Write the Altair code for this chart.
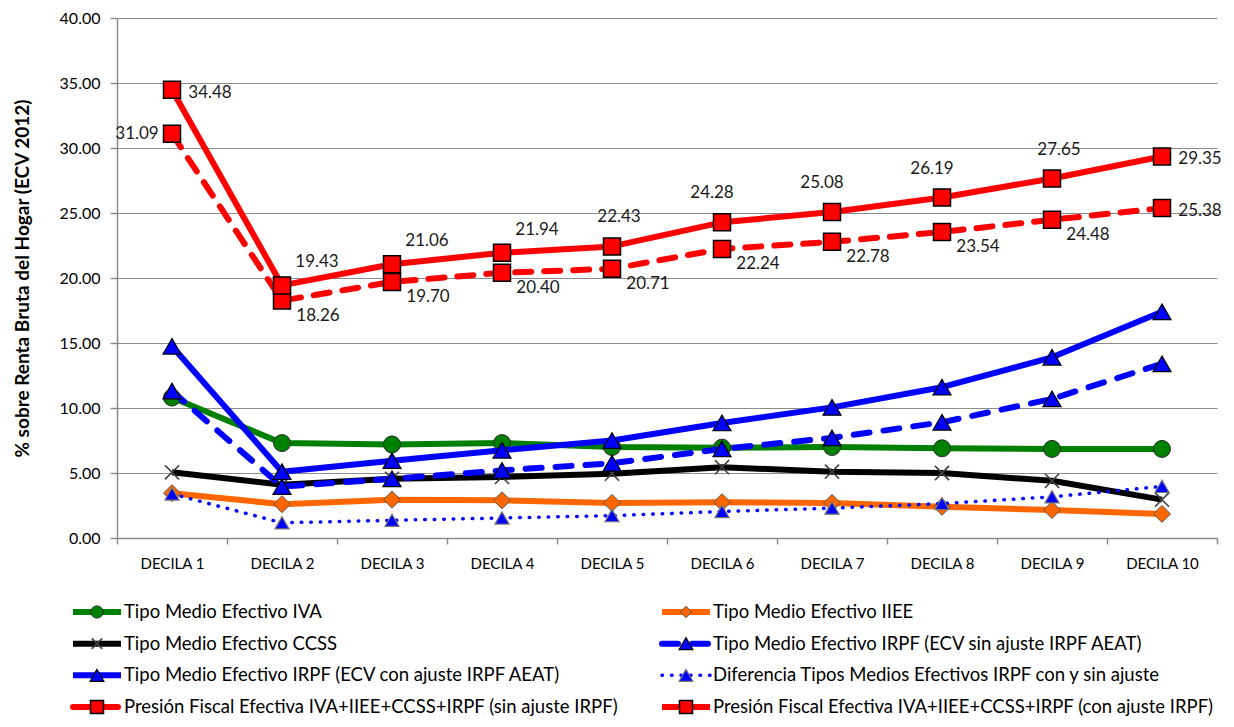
import altair as alt
import pandas as pd

deciles = ["DECILA 1", "DECILA 2", "DECILA 3", "DECILA 4", "DECILA 5",
           "DECILA 6", "DECILA 7", "DECILA 8", "DECILA 9", "DECILA 10"]

iva = [10.80, 7.30, 7.20, 7.30, 7.00, 6.95, 7.00, 6.90, 6.85, 6.85]
iiee = [3.45, 2.60, 2.95, 2.90, 2.70, 2.75, 2.70, 2.40, 2.15, 1.85]
ccss = [5.05, 4.10, 4.55, 4.70, 4.95, 5.45, 5.10, 5.00, 4.40, 2.95]
irpf_sin = [11.30, 3.95, 4.55, 5.20, 5.75, 6.85, 7.70, 8.90, 10.70, 13.40]
irpf_con = [14.75, 5.10, 5.95, 6.75, 7.50, 8.85, 10.05, 11.60, 13.90, 17.40]
diferencia = [3.39, 1.17, 1.36, 1.54, 1.72, 2.04, 2.30, 2.65, 3.17, 3.97]
presion_sin = [31.09, 18.26, 19.70, 20.40, 20.71, 22.24, 22.78, 23.54, 24.48, 25.38]
presion_con = [34.48, 19.43, 21.06, 21.94, 22.43, 24.28, 25.08, 26.19, 27.65, 29.35]

series_names = [
    "Tipo Medio Efectivo IVA",
    "Tipo Medio Efectivo IIEE",
    "Tipo Medio Efectivo CCSS",
    "Tipo Medio Efectivo IRPF (ECV sin ajuste IRPF AEAT)",
    "Tipo Medio Efectivo IRPF (ECV con ajuste IRPF AEAT)",
    "Diferencia Tipos Medios Efectivos IRPF con y sin ajuste",
    "Presión Fiscal Efectiva IVA+IIEE+CCSS+IRPF (sin ajuste IRPF)",
    "Presión Fiscal Efectiva IVA+IIEE+CCSS+IRPF (con ajuste IRPF)",
]
series_values = [iva, iiee, ccss, irpf_sin, irpf_con, diferencia, presion_sin, presion_con]

# legend grid (column, row) for each series
legend_col = [0, 1, 0, 1, 0, 1, 0, 1]
legend_row = [0, 0, 1, 1, 2, 2, 3, 3]

X_SHAPE = "M-1,-1L1,1M-1,1L1,-1"

line_styles = [
    dict(color="#008000", strokeWidth=6),
    dict(color="#FF6600", strokeWidth=6),
    dict(color="#000000", strokeWidth=6),
    dict(color="#0000FF", strokeWidth=6, strokeDash=[16, 14], strokeCap="round"),
    dict(color="#0000FF", strokeWidth=6),
    dict(color="#0000FF", strokeWidth=3.5, strokeDash=[0.5, 9], strokeCap="round"),
    dict(color="#FF0000", strokeWidth=6, strokeDash=[16, 13], strokeCap="round"),
    dict(color="#FF0000", strokeWidth=6),
]
point_styles = [
    dict(shape="circle", size=289, filled=True, color="#008000", stroke="#2a2a2a", strokeWidth=1),
    dict(shape="diamond", size=289, filled=True, color="#FF6600", stroke="#555555", strokeWidth=1),
    dict(shape=X_SHAPE, size=200, filled=False, color="#404040", strokeWidth=1.6),
    dict(shape="triangle-up", size=324, filled=True, color="#0000FF", stroke="#000000", strokeWidth=1.2),
    dict(shape="triangle-up", size=324, filled=True, color="#0000FF", stroke="#000000", strokeWidth=1.2),
    dict(shape="triangle-up", size=200, filled=True, color="#0000FF", stroke="#777777", strokeWidth=1.2),
    dict(shape="square", size=289, filled=True, color="#FF0000", stroke="#000000", strokeWidth=1.5),
    dict(shape="square", size=289, filled=True, color="#FF0000", stroke="#000000", strokeWidth=1.5),
]
legend_point_size = [150, 130, 110, 190, 190, 190, 170, 170]

rows = []
for name, vals in zip(series_names, series_values):
    for d, v in zip(deciles, vals):
        rows.append({"serie": name, "decila": d, "valor": v})
df = pd.DataFrame(rows)

FONT = "Lato"
GRID = "#8c8c8c"

x_enc = alt.X(
    "decila:N",
    sort=deciles,
    bandPosition=0.5,
    scale=alt.Scale(type="band", domain=deciles, paddingInner=0, paddingOuter=0),
    axis=alt.Axis(
        title=None, labelAngle=0, tickBand="extent", grid=False,
        domainColor=GRID, tickColor=GRID, tickSize=6, domainWidth=1.5, tickWidth=1.5,
        labelFontSize=15, labelColor="#000000", labelPadding=12, labelFont=FONT,
    ),
)
y_enc = alt.Y(
    "valor:Q",
    scale=alt.Scale(domain=[0, 40], nice=False),
    axis=alt.Axis(
        title="% sobre Renta Bruta del Hogar (ECV 2012)",
        values=[0, 5, 10, 15, 20, 25, 30, 35, 40], format=".2f",
        gridColor=GRID, gridWidth=1.2, domainColor=GRID, domainWidth=1.5,
        tickColor=GRID, tickSize=7, tickWidth=1.5,
        labelFontSize=16, labelColor="#000000", labelPadding=10, labelFont=FONT,
        titleFontSize=19, titleFontWeight="bold", titleColor="#000000",
        titlePadding=27, titleFont=FONT,
    ),
)

base = alt.Chart(df)
layers = []
for name, ls, ps in zip(series_names, line_styles, point_styles):
    sub = base.transform_filter(alt.datum.serie == name)
    layers.append(sub.mark_line(strokeJoin="round", **ls).encode(x=x_enc, y=y_enc))
    layers.append(sub.mark_point(opacity=1, fillOpacity=1, **ps).encode(x=x_enc, y=y_enc))

label_groups = [
    (series_names[7], ["DECILA 1", "DECILA 10"], 38, 3),
    (series_names[7], ["DECILA 2", "DECILA 3", "DECILA 4"], 35, -23),
    (series_names[7], ["DECILA 5", "DECILA 9"], 7, -29),
    (series_names[7], ["DECILA 6", "DECILA 7", "DECILA 8"], -10, -29),
    (series_names[6], ["DECILA 1"], -35, 0),
    (series_names[6], ["DECILA 10"], 38, 3),
    (series_names[6], deciles[1:9], 36, 15),
]
for name, group, dx, dy in label_groups:
    layers.append(
        base.transform_filter(alt.datum.serie == name)
        .transform_filter(alt.FieldOneOfPredicate(field="decila", oneOf=group))
        .mark_text(dx=dx, dy=dy, fontSize=17, font=FONT, color="#1a1a1a", align="center", baseline="middle")
        .encode(x=x_enc, y=y_enc, text=alt.Text("valor:Q", format=".2f"))
    )

main = alt.layer(*layers).properties(width=1100, height=520)

# ---- custom legend (aligned on the plot's left edge) ----
leg_df = pd.DataFrame({"serie": series_names, "col": legend_col, "row": legend_row})
lx = alt.X("col:Q", scale=alt.Scale(domain=[0, 1], range=[-44, 545]), axis=None)
ly = alt.Y("row:Q", scale=alt.Scale(domain=[0, 3], range=[14, 109]), axis=None)
lbase = alt.Chart(leg_df)
leg_layers = []
for name, ls, ps, lsz in zip(series_names, line_styles, point_styles, legend_point_size):
    sub = lbase.transform_filter(alt.datum.serie == name)
    leg_layers.append(
        sub.mark_rule(x2Offset=48, **ls).encode(x=lx, x2=alt.X2("col"), y=ly)
    )
    pkw = dict(ps)
    pkw["size"] = lsz
    leg_layers.append(
        sub.mark_point(xOffset=24, opacity=1, fillOpacity=1, **pkw).encode(x=lx, y=ly)
    )
leg_layers.append(
    lbase.mark_text(align="left", baseline="middle", dx=51, fontSize=18.5, font=FONT, color="#000000")
    .encode(x=lx, y=ly, text="serie:N")
)
legend = alt.layer(*leg_layers).properties(width=600, height=116)

chart = (
    alt.vconcat(main, legend, spacing=27)
    .properties(padding={"left": 5, "top": 2, "right": 0, "bottom": 0})
    .configure(font=FONT)
    .configure_view(strokeOpacity=0, strokeWidth=0)
)

chart.save("out.html", embed_options={"renderer": "svg", "actions": False})
